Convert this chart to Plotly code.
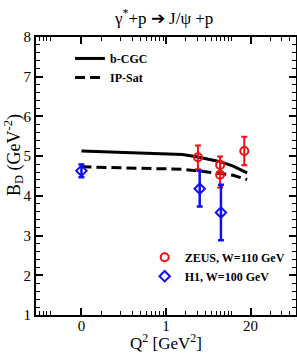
import plotly.graph_objects as go

# Theory curves
q2_theory = [0.05, 1.8, 3.1, 6.8, 10.8, 17.7]
b_cgc = [5.13, 5.04, 4.98, 4.86, 4.75, 4.58]
ip_sat = [4.73, 4.67, 4.63, 4.56, 4.52, 4.41]

# ZEUS, W=110 GeV
zeus_q2 = [3.1, 6.8, 6.8, 16.0]
zeus_b = [4.97, 4.78, 4.53, 5.13]
zeus_err = [0.30, 0.21, 0.32, 0.36]

# H1, W=100 GeV
h1_q2 = [0.05, 3.3, 7.0]
h1_b = [4.63, 4.18, 3.58]
h1_err = [0.16, 0.45, 0.70]

# Axis ticks
x_tickvals = [0.05, 1, 20]
x_ticktext = ["0", "1", "20"]
x_minor = [0.0115, 0.013, 0.0145, 0.0165,
           0.1, 0.2, 0.3, 0.4, 0.5, 0.6, 0.7, 0.8, 0.9,
           2, 3, 4, 5, 6, 7, 8, 9, 10, 40, 60, 80]

SERIF = "Liberation Serif"

fig = go.Figure()
fig.add_trace(go.Scatter(x=q2_theory, y=b_cgc, mode="lines", name="b-CGC",
                         line=dict(color="black", width=3), legend="legend"))
fig.add_trace(go.Scatter(x=q2_theory, y=ip_sat, mode="lines", name="IP-Sat",
                         line=dict(color="black", width=3, dash="10px,5px"), legend="legend"))
fig.add_trace(go.Scatter(x=zeus_q2, y=zeus_b, mode="markers", name="ZEUS, W=110 GeV",
                         marker=dict(symbol="circle-open", size=8, color="#ee1111",
                                     line=dict(width=2, color="#ee1111")),
                         error_y=dict(type="data", array=zeus_err, color="#ee1111",
                                      thickness=2, width=3),
                         legend="legend2"))
fig.add_trace(go.Scatter(x=h1_q2, y=h1_b, mode="markers", name="H1, W=100 GeV",
                         marker=dict(symbol="diamond-open", size=8, color="#1111ee",
                                     line=dict(width=2, color="#1111ee")),
                         error_y=dict(type="data", array=h1_err, color="#1111ee",
                                      thickness=2.5, width=3),
                         legend="legend2"))

fig.update_layout(
    width=297, height=356, autosize=False,
    margin=dict(l=36, r=1, t=37, b=41),
    paper_bgcolor="white", plot_bgcolor="white",
    font=dict(family=SERIF, color="black"),
    legend=dict(x=0.131, y=0.975, xanchor="left", yanchor="top",
                bgcolor="rgba(0,0,0,0)", itemwidth=30, tracegroupgap=0,
                font=dict(family=SERIF, size=12, weight="bold", color="black")),
    legend2=dict(x=0.418, y=0.26, xanchor="left", yanchor="top",
                 bgcolor="rgba(0,0,0,0)", itemwidth=30, tracegroupgap=0,
                 font=dict(family=SERIF, size=12, weight="bold", color="black")),
    showlegend=True,
)

fig.update_xaxes(
    type="log", range=[-2, 2], automargin=False,
    tickmode="array", tickvals=x_tickvals, ticktext=x_ticktext,
    ticks="inside", ticklen=7, tickwidth=1.5, tickcolor="black",
    ticklabelstandoff=-4,
    showline=True, linewidth=2, linecolor="black", mirror="ticks",
    showgrid=False, zeroline=False,
    tickfont=dict(family=SERIF, size=15, color="black"),
    minor=dict(tickmode="array", tickvals=x_minor, ticks="inside",
               ticklen=4, tickwidth=1.2, tickcolor="black", showgrid=False),
)
fig.update_yaxes(
    range=[1, 8], tickmode="linear", tick0=1, dtick=1, automargin=False,
    ticks="inside", ticklen=7, tickwidth=1.5, tickcolor="black",
    showline=True, linewidth=2, linecolor="black", mirror="ticks",
    showgrid=False, zeroline=False,
    tickfont=dict(family=SERIF, size=15, color="black"),
    minor=dict(dtick=0.2, ticks="inside", ticklen=4, tickwidth=1.2,
               tickcolor="black", showgrid=False),
)

fig.add_annotation(text="γ<sup>*</sup>+p ➔ J/ψ +p", xref="paper", yref="paper",
                   x=0.49, y=1 + 20 / 278, xanchor="center", yanchor="middle",
                   showarrow=False, font=dict(family=SERIF, size=17, color="black"))
fig.add_annotation(text="Q<sup>2</sup> [GeV<sup>2</sup>]", xref="paper", yref="paper",
                   x=(166 - 36) / 260, y=-(342 - 315) / 278, xanchor="center", yanchor="middle",
                   showarrow=False, font=dict(family=SERIF, size=17, color="black"))
fig.add_annotation(text="B<sub>D</sub> (GeV<sup>-2</sup>)", xref="paper", yref="paper",
                   x=(13 - 36) / 260, y=(315 - 155) / 278, xanchor="center", yanchor="middle",
                   textangle=-90, showarrow=False,
                   font=dict(family=SERIF, size=18, color="black"))

fig.write_html(
    "out.html",
    config={"responsive": False, "displayModeBar": False},
    post_script="document.body.style.margin='0';document.body.style.overflow='hidden';",
)
